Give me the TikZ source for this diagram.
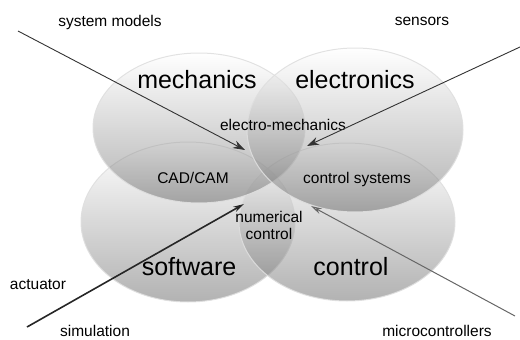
\documentclass[tikz,border=0pt]{standalone}
\usepackage{fontspec}
\setmainfont{Liberation Sans}
\usetikzlibrary{arrows.meta}
\begin{document}
\begin{tikzpicture}[x=1pt,y=-1pt,
  blob/.style={top color=white, bottom color=black!60, fill opacity=0.5, draw=gray!25, draw opacity=0.9, line width=1pt},
  big/.style={font=\fontsize{25}{28}\selectfont, inner sep=0pt, anchor=base},
  small/.style={font=\fontsize{15.5}{17}\selectfont, inner sep=0pt, anchor=base},
  arr/.style={draw=black!80, line width=0.9pt, -{Stealth[length=12pt,width=8pt]}},
  arrw/.style={draw=black!70, line width=1pt, -{Stealth[length=11pt,width=6pt,fill=white,open]}}]
\useasboundingbox (0,0) rectangle (520,340);
% ellipses
\shade[blob] (188,222) ellipse [x radius=107pt, y radius=80pt];
\shade[blob] (347,222) ellipse [x radius=108pt, y radius=79pt];
\shade[blob] (199,128) ellipse [x radius=106pt, y radius=75pt];
\shade[blob] (355,130) ellipse [x radius=108pt, y radius=82pt];
% labels
\node[big] (mech) at (197,88) {mechanics};
\node[big] (elec) at (355,88) {electronics};
\node[big] (soft) at (189,275) {software};
\node[big] (ctrl) at (351,275) {control};
\node[small] (em) at (283,130) {electro-mechanics};
\node[small] (cad) at (193,183) {CAD/CAM};
\node[small] (cs) at (357,183) {control systems};
\node[small] (nc1) at (269,222) {numerical};
\node[small] (nc2) at (269,239) {control};
\node[small] (sm) at (110,26) {system models};
\node[small] (sen) at (422,25) {sensors};
\node[small] (act) at (38,289) {actuator};
\node[small] (sim) at (95,336) {simulation};
\node[small] (mc) at (437,336) {microcontrollers};
% arrows
\coordinate (smS) at (18,31);  \coordinate (smE) at (245,150);
\coordinate (seS) at (520,47); \coordinate (seE) at (307,146);
\coordinate (siS) at (27,327); \coordinate (siE) at (244,204);
\coordinate (mcS) at (515,316);\coordinate (mcE) at (311,206);
\draw[arr] (smS) -- (smE);
\draw[arr] (seS) -- (seE);
\draw[arrw, line width=1.6pt, draw=black!85] (siS) -- (siE);
\draw[arrw, draw=black!60] (mcS) -- (mcE);
\end{tikzpicture}
\end{document}
